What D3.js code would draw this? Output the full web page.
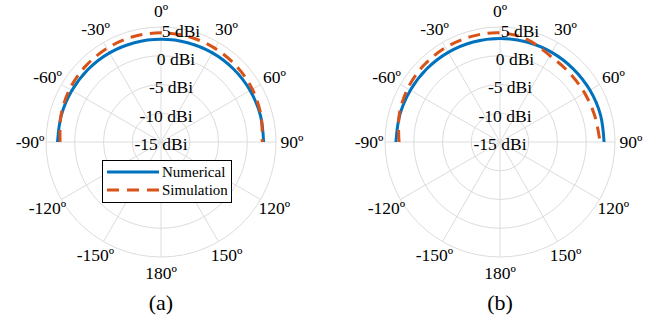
<!DOCTYPE html>
<html>
<head>
<meta charset="utf-8">
<script src="https://cdn.jsdelivr.net/npm/d3@7"></script>
<style>
  html, body { margin: 0; padding: 0; background: #fff; }
  svg { display: block; }
  text { font-family: "Liberation Serif", "Times New Roman", serif; fill: #000; }
</style>
</head>
<body>
<svg id="chart" width="658" height="320"></svg>
<script>
// Angles of the sampled pattern (degrees, 0 = boresight, clockwise positive)
const thetaDeg = [-90, -75, -60, -45, -30, -15, 0, 15, 30, 45, 60, 75, 90];

// Panel (a): gain in dBi
const numericalA  = [3.0, 2.95, 2.9, 2.9, 2.9, 2.88, 2.86, 2.88, 2.9, 2.9, 2.9, 2.9, 2.85];
const simulationA = [2.55, 3.0, 3.35, 3.6, 3.8, 3.95, 3.98, 3.95, 3.8, 3.6, 3.35, 3.0, 2.6];

// Panel (b): gain in dBi
const numericalB  = [3.1, 3.05, 3.0, 3.0, 3.0, 3.0, 3.0, 3.0, 3.0, 3.0, 3.05, 3.1, 3.1];
const simulationB = [2.55, 3.15, 3.55, 3.8, 3.95, 4.02, 4.0, 3.45, 2.35, 2.05, 2.0, 2.1, 2.4];

// Radial axis
const rTickValues = [-15, -10, -5, 0, 5];
const rTickLabels = ["-15 dBi", "-10 dBi", "-5 dBi", "0 dBi", "5 dBi"];
const rDomain = [-15, 5];

// Angular axis
const angleTicks = [0, 30, 60, 90, 120, 150, 180, -150, -120, -90, -60, -30];
const angleTickLabels = ["0º", "30º", "60º", "90º", "120º", "150º", "180º", "-150º", "-120º", "-90º", "-60º", "-30º"];

const seriesNames = ["Numerical", "Simulation"];
const panelLabels = ["(a)", "(b)"];

const blue = "#0072BD";
const orange = "#D95319";
const gridColor = "#dcdcdc";

const svg = d3.select("#chart");
const outerR = 115;
const rScale = d3.scaleLinear().domain(rDomain).range([0, outerR]);
const rad = d => d * Math.PI / 180;

function drawPanel(cx, cy, numerical, simulation, label, withLegend) {
  const g = svg.append("g").attr("transform", `translate(${cx},${cy})`);

  // rings
  g.selectAll("circle.ring")
    .data(rTickValues.filter(v => v > rDomain[0]))
    .join("circle")
    .attr("class", "ring")
    .attr("r", d => rScale(d))
    .attr("fill", "none")
    .attr("stroke", gridColor)
    .attr("stroke-width", 1);

  // spokes
  g.selectAll("line.spoke")
    .data(angleTicks)
    .join("line")
    .attr("class", "spoke")
    .attr("x1", 0).attr("y1", 0)
    .attr("x2", d => outerR * Math.sin(rad(d)))
    .attr("y2", d => -outerR * Math.cos(rad(d)))
    .attr("stroke", gridColor)
    .attr("stroke-width", 1);

  const line = d3.lineRadial()
    .angle(d => rad(d[0]))
    .radius(d => rScale(d[1]))
    .curve(d3.curveCatmullRom);

  g.append("path")
    .datum(thetaDeg.map((t, i) => [t, numerical[i]]))
    .attr("d", line)
    .attr("fill", "none")
    .attr("stroke", blue)
    .attr("stroke-width", 3);

  g.append("path")
    .datum(thetaDeg.map((t, i) => [t, simulation[i]]))
    .attr("d", line)
    .attr("fill", "none")
    .attr("stroke", orange)
    .attr("stroke-width", 3)
    .attr("stroke-dasharray", "12,7.5");

  // angular tick labels
  const labelR = 131;
  g.selectAll("text.ang")
    .data(angleTicks)
    .join("text")
    .attr("class", "ang")
    .attr("x", d => labelR * Math.sin(rad(d)))
    .attr("y", d => -labelR * Math.cos(rad(d)))
    .attr("text-anchor", "middle")
    .attr("dominant-baseline", "central")
    .attr("font-size", 17.5)
    .text((d, i) => angleTickLabels[i]);

  // radial tick labels along the 10° direction
  const rLabAng = rad(10);
  g.selectAll("text.rlab")
    .data(rTickValues)
    .join("text")
    .attr("class", "rlab")
    .attr("x", d => rScale(d) * Math.sin(rLabAng))
    .attr("y", d => -rScale(d) * Math.cos(rLabAng) + 2)
    .attr("text-anchor", "middle")
    .attr("dominant-baseline", "central")
    .attr("font-size", 17.5)
    .text((d, i) => rTickLabels[i]);

  // panel caption
  svg.append("text")
    .attr("x", cx)
    .attr("y", 302)
    .attr("text-anchor", "middle")
    .attr("dominant-baseline", "central")
    .attr("font-size", 22)
    .text(label);

  if (withLegend) {
    const lg = svg.append("g").attr("transform", `translate(${cx - 59},160)`);
    lg.append("rect")
      .attr("x", 0.5).attr("y", 0.5)
      .attr("width", 129).attr("height", 42)
      .attr("fill", "#fff")
      .attr("stroke", "#000")
      .attr("stroke-width", 1);
    const colors = [blue, orange];
    const dashes = [null, "12,8"];
    seriesNames.forEach((name, i) => {
      const y = 12 + i * 18;
      lg.append("line")
        .attr("x1", 5).attr("x2", 57)
        .attr("y1", y).attr("y2", y)
        .attr("stroke", colors[i])
        .attr("stroke-width", 3)
        .attr("stroke-dasharray", dashes[i]);
      lg.append("text")
        .attr("x", 60)
        .attr("y", y)
        .attr("dominant-baseline", "central")
        .attr("font-size", 15)
        .text(name);
    });
  }
}

drawPanel(161, 142, numericalA, simulationA, panelLabels[0], true);
drawPanel(500, 142, numericalB, simulationB, panelLabels[1], false);
</script>
</body>
</html>
